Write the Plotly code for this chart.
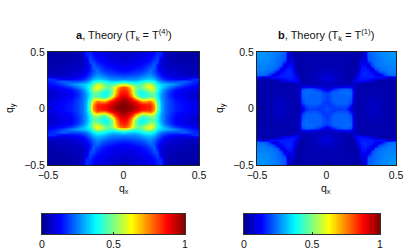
import numpy as np
import plotly.graph_objects as go

# quadrant values, q = 0 ... 0.5 in steps of 0.025 (rows qy, columns qx)
quadrant_a = [
 [1,1,.98,.95,.90,.87,.86,.85,.74,.50,.30,.23,.19,.17,.15,.14,.13,.12,.11,.10,.09],
 [1,.98,.96,.92,.88,.85,.84,.83,.72,.49,.30,.23,.19,.17,.15,.14,.13,.12,.11,.10,.09],
 [.98,.96,.92,.87,.80,.72,.72,.76,.64,.45,.29,.23,.19,.16,.14,.13,.12,.11,.10,.09,.08],
 [.94,.92,.86,.72,.56,.48,.50,.55,.53,.40,.28,.22,.18,.15,.13,.12,.11,.10,.09,.08,.07],
 [.90,.88,.78,.58,.44,.40,.42,.46,.47,.38,.28,.22,.17,.14,.12,.11,.10,.09,.08,.07,.07],
 [.87,.85,.72,.50,.40,.38,.41,.46,.48,.38,.28,.22,.17,.14,.12,.11,.10,.09,.08,.07,.07],
 [.84,.82,.70,.50,.43,.43,.48,.56,.54,.41,.31,.24,.19,.15,.13,.12,.11,.10,.09,.08,.07],
 [.80,.76,.65,.52,.46,.50,.58,.63,.54,.42,.34,.29,.25,.21,.18,.16,.14,.13,.12,.11,.10],
 [.58,.54,.48,.44,.44,.47,.54,.57,.47,.38,.33,.31,.29,.27,.25,.22,.19,.17,.15,.14,.13],
 [.37,.35,.33,.33,.35,.38,.41,.41,.37,.31,.25,.22,.20,.20,.20,.21,.22,.20,.18,.16,.15],
 [.26,.26,.26,.26,.28,.30,.32,.33,.30,.25,.19,.16,.14,.13,.12,.12,.12,.13,.15,.17,.17],
 [.20,.21,.21,.22,.23,.25,.27,.28,.25,.20,.15,.11,.10,.09,.08,.08,.07,.07,.07,.07,.07],
 [.16,.16,.17,.18,.19,.20,.23,.25,.21,.17,.12,.09,.08,.07,.07,.06,.06,.05,.05,.05,.05],
 [.13,.13,.14,.15,.16,.17,.19,.23,.20,.15,.10,.08,.07,.06,.06,.05,.05,.05,.04,.04,.04],
 [.11,.11,.12,.13,.14,.15,.17,.20,.22,.14,.09,.07,.06,.06,.05,.05,.05,.04,.04,.04,.04],
 [.10,.10,.10,.11,.12,.13,.15,.17,.21,.16,.08,.06,.05,.05,.05,.04,.04,.04,.04,.03,.03],
 [.09,.09,.09,.10,.11,.12,.13,.15,.20,.19,.08,.06,.05,.04,.04,.04,.04,.03,.03,.03,.03],
 [.08,.08,.08,.09,.10,.11,.12,.13,.16,.19,.09,.05,.05,.04,.04,.03,.03,.03,.03,.03,.03],
 [.07,.07,.08,.08,.09,.10,.11,.12,.14,.18,.14,.05,.04,.04,.03,.03,.03,.03,.03,.03,.02],
 [.07,.07,.07,.08,.08,.09,.10,.11,.13,.16,.16,.06,.04,.04,.03,.03,.03,.03,.02,.02,.02],
 [.06,.06,.07,.07,.08,.08,.09,.10,.12,.15,.17,.07,.04,.03,.03,.03,.03,.02,.02,.02,.02],
]
quadrant_b = [
 [.20,.19,.18,.18,.18,.19,.16,.08,.04,.035,.035,.04,.05,.055,.055,.05,.04,.035,.03,.03,.03],
 [.19,.18,.18,.20,.20,.20,.19,.12,.04,.035,.035,.04,.05,.055,.055,.05,.04,.035,.03,.03,.03],
 [.18,.18,.21,.22,.22,.22,.22,.18,.05,.035,.035,.04,.05,.055,.055,.05,.04,.035,.03,.03,.03],
 [.18,.20,.22,.22,.22,.22,.22,.20,.05,.035,.035,.04,.05,.05,.05,.04,.04,.035,.03,.03,.03],
 [.18,.20,.22,.22,.22,.22,.23,.21,.05,.035,.035,.035,.04,.05,.05,.04,.035,.035,.03,.03,.03],
 [.19,.20,.22,.22,.22,.22,.23,.22,.06,.035,.035,.035,.035,.04,.04,.035,.035,.03,.03,.03,.03],
 [.16,.19,.22,.22,.23,.23,.23,.22,.07,.035,.035,.035,.035,.035,.035,.035,.035,.035,.035,.035,.035],
 [.09,.12,.16,.19,.21,.22,.22,.20,.06,.035,.035,.035,.035,.035,.035,.035,.035,.035,.035,.035,.035],
 [.06,.06,.06,.07,.07,.08,.09,.08,.05,.035,.035,.035,.035,.035,.035,.035,.035,.035,.035,.035,.035],
 [.055,.055,.05,.05,.04,.04,.035,.035,.07,.07,.04,.03,.03,.03,.035,.035,.035,.035,.035,.035,.035],
 [.075,.07,.06,.05,.05,.04,.035,.03,.09,.13,.14,.13,.12,.09,.05,.03,.025,.03,.03,.035,.035],
 [.09,.08,.07,.06,.05,.04,.035,.03,.04,.13,.15,.15,.15,.15,.14,.14,.14,.08,.06,.09,.12],
 [.07,.07,.06,.05,.04,.04,.035,.03,.03,.11,.15,.16,.15,.15,.13,.06,.13,.20,.22,.23,.23],
 [.06,.06,.05,.05,.04,.04,.035,.03,.03,.08,.15,.16,.15,.13,.07,.19,.21,.23,.24,.24,.24],
 [.05,.05,.05,.04,.04,.035,.035,.03,.03,.05,.14,.15,.14,.07,.20,.22,.24,.24,.25,.25,.25],
 [.04,.04,.04,.04,.035,.035,.035,.03,.03,.03,.13,.14,.06,.19,.22,.24,.24,.25,.25,.25,.25],
 [.04,.04,.04,.035,.035,.035,.035,.03,.03,.03,.12,.09,.13,.21,.23,.24,.25,.25,.26,.26,.26],
 [.04,.04,.035,.035,.035,.035,.035,.03,.03,.03,.10,.06,.20,.22,.23,.24,.25,.26,.26,.26,.26],
 [.035,.035,.035,.035,.035,.035,.035,.03,.03,.03,.08,.07,.21,.22,.23,.25,.25,.26,.26,.27,.27],
 [.035,.035,.035,.035,.035,.035,.035,.03,.03,.03,.05,.09,.21,.22,.24,.25,.26,.26,.27,.27,.27],
 [.035,.035,.035,.035,.035,.035,.035,.03,.03,.03,.03,.08,.22,.23,.24,.25,.26,.26,.27,.27,.27],
]
q_half = [0, .025, .05, .075, .1, .125, .15, .175, .2, .225, .25, .275, .3, .325, .35, .375, .4, .425, .45, .475, .5]
ticks = [-0.5, 0, 0.5]
tick_labels = ["−0.5", "0", "0.5"]
cbar_ticks = [0, 0.5, 1]
cbar_labels = ["0", "0.5", "1"]
title_a = "<b>a</b>, Theory (T<sub>k</sub> = T<sup>(4)</sup>)"
title_b = "<b>b</b>, Theory (T<sub>k</sub> = T<sup>(1)</sup>)"
y_center_a = 0.015

jet = [[0,"rgb(0,0,143)"],[0.125,"rgb(0,0,255)"],[0.375,"rgb(0,255,255)"],
       [0.625,"rgb(255,255,0)"],[0.875,"rgb(255,0,0)"],[1,"rgb(128,0,0)"]]
W, H = 417, 250
FONT = "Liberation Sans"

def full(q):
    q = np.array(q, dtype=float)
    right = np.hstack([q[:, :0:-1], q])
    return np.vstack([right[:0:-1], right])

axis_q = np.array([-v for v in q_half[:0:-1]] + q_half)

def dom(a, b, total):
    return [a / total, b / total]

fig = go.Figure()
fig.add_trace(go.Heatmap(z=full(quadrant_a), x=axis_q, y=axis_q + y_center_a, xaxis="x", yaxis="y",
                         colorscale=jet, zmin=0, zmax=1, zsmooth="best", showscale=False))
fig.add_trace(go.Heatmap(z=full(quadrant_b), x=axis_q, y=axis_q, xaxis="x2", yaxis="y2",
                         colorscale=jet, zmin=0, zmax=1, zsmooth="best", showscale=False))
bar = np.linspace(0, 1, 256)
fig.add_trace(go.Heatmap(z=[bar, bar], x=bar, y=[-0.5, 0.5], xaxis="x3", yaxis="y3", colorscale=jet, zmin=0, zmax=1,
                         zsmooth="best", showscale=False))
fig.add_trace(go.Heatmap(z=[bar, bar], x=bar, y=[-0.5, 0.5], xaxis="x4", yaxis="y4", colorscale=jet, zmin=0, zmax=1,
                         zsmooth="best", showscale=False))

TICK = dict(size=10.5, color="#111")
common = dict(tickmode="array", tickvals=ticks, ticktext=tick_labels, range=[-0.5, 0.5], automargin=False,
              showgrid=False, zeroline=False, ticks="inside", ticklen=2, tickcolor="#222",
              showline=True, linecolor="#222", linewidth=1, mirror=True, tickfont=TICK)
bc = dict(showline=True, linecolor="#333", linewidth=1, mirror=True, showgrid=False, zeroline=False, automargin=False)
ybar = [1 - 234 / H, 1 - 214 / H]
yplot = [1 - 165 / H, 1 - 52 / H]

def label(text, x, y, angle=0, size=10.5):
    return dict(text=text, x=x / W, y=1 - y / H, xref="paper", yref="paper", showarrow=False, textangle=angle,
                xanchor="center", yanchor="middle", font=dict(size=size, color="#111"))

fig.update_layout(
    width=W, height=H, margin=dict(l=0, r=0, t=0, b=0), paper_bgcolor="white", plot_bgcolor="white",
    font=dict(family=FONT, size=10.5, color="#111"),
    xaxis=dict(domain=dom(48, 199, W), anchor="y", **common),
    yaxis=dict(domain=yplot, anchor="x", **common),
    xaxis2=dict(domain=dom(257, 396, W), anchor="y2", **common),
    yaxis2=dict(domain=yplot, anchor="x2", **common),
    xaxis3=dict(domain=dom(42, 185, W), anchor="y3", range=[0, 1], tickmode="array", tickvals=cbar_ticks, ticktext=cbar_labels,
                ticks="inside", ticklen=2, tickcolor="#222", tickfont=TICK, **bc),
    yaxis3=dict(domain=ybar, anchor="x3", showticklabels=False, ticks="", range=[-0.5, 0.5], **bc),
    xaxis4=dict(domain=dom(244, 380, W), anchor="y4", range=[0, 1], tickmode="array", tickvals=cbar_ticks, ticktext=cbar_labels,
                ticks="inside", ticklen=2, tickcolor="#222", tickfont=TICK, **bc),
    yaxis4=dict(domain=ybar, anchor="x4", showticklabels=False, ticks="", range=[-0.5, 0.5], **bc),
    annotations=[
        label(title_a, 124, 35, size=11),
        label(title_b, 326, 35, size=11),
        label("q<sub>x</sub>", 124, 189),
        label("q<sub>x</sub>", 326, 189),
        label("q<sub>y</sub>", 10, 108, angle=-90),
        label("q<sub>y</sub>", 220, 108, angle=-90),
    ],
)
fig.write_html("out.html", config=dict(displayModeBar=False),
               post_script="document.body.style.margin='0';document.documentElement.style.overflow='hidden';")
